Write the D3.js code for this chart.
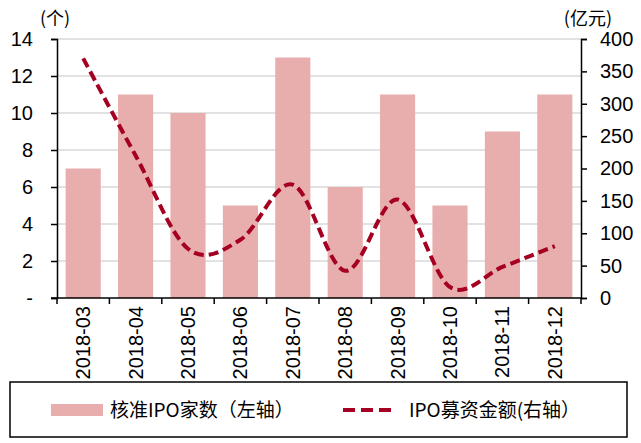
<!DOCTYPE html>
<html>
<head>
<meta charset="utf-8">
<script src="https://cdn.jsdelivr.net/npm/d3@7"></script>
<style>
body { margin: 0; background: #fff; }
svg { display: block; }
.num { font-family: "Liberation Sans Narrow", "Arial Narrow", "Liberation Sans", Arial, sans-serif; font-size: 20px; fill: #000; }
.cjk { font-family: "Noto Sans CJK SC", sans-serif; fill: #000; }
</style>
</head>
<body>
<svg id="chart" width="641" height="443"></svg>
<script>
// data
var categories = ['2018-03', '2018-04', '2018-05', '2018-06', '2018-07', '2018-08', '2018-09', '2018-10', '2018-11', '2018-12'];
var ipoCount = [7, 11, 10, 5, 13, 6, 11, 5, 9, 11];
var ipoAmount = [370, 220, 76, 90, 175, 42, 152, 17, 48, 80];
var leftTicks = [0, 2, 4, 6, 8, 10, 12, 14];
var rightTicks = [0, 50, 100, 150, 200, 250, 300, 350, 400];

var BAR = '#e8adad';
var LINE = '#a50021';

var svg = d3.select('svg#chart');
// plot edges (note: "top" is taken by window.top)
var plotL = 57, plotR = 581, plotT = 39, plotB = 298;

var x = d3.scaleBand().domain(categories).range([plotL, plotR]).paddingInner(0.33).paddingOuter(0.165);
var xb = d3.scaleBand().domain(categories).range([plotL, plotR]);
var yL = d3.scaleLinear().domain([0, 14]).range([plotB, plotT]);
var yR = d3.scaleLinear().domain([0, 400]).range([plotB, plotT]);

// gridlines
svg.append('g').selectAll('line').data(leftTicks.slice(1)).enter().append('line')
	.attr('x1', plotL).attr('x2', plotR)
	.attr('y1', function(d) { return yL(d); }).attr('y2', function(d) { return yL(d); })
	.attr('stroke', '#d9d9d9').attr('stroke-width', 1.5);

// bars
svg.append('g').selectAll('rect').data(ipoCount).enter().append('rect')
	.attr('x', function(d, i) { return x(categories[i]); })
	.attr('width', x.bandwidth())
	.attr('y', function(d) { return yL(d); })
	.attr('height', function(d) { return plotB - yL(d); })
	.attr('fill', BAR);

// line
var line = d3.line()
	.x(function(d, i) { return xb(categories[i]) + xb.bandwidth() / 2; })
	.y(function(d) { return yR(d); })
	.curve(d3.curveCardinal.tension(0));

svg.append('path').datum(ipoAmount)
	.attr('d', line)
	.attr('fill', 'none')
	.attr('stroke', LINE)
	.attr('stroke-width', 4)
	.attr('stroke-dasharray', '10,5');

// left axis
var axL = svg.append('g').attr('transform', 'translate(' + plotL + ',0)')
	.call(d3.axisLeft(yL).tickValues(leftTicks).tickSize(6).tickPadding(18)
		.tickFormat(function(d) { return d === 0 ? '-' : d; }));
axL.attr('font-size', null).attr('font-family', null);
axL.selectAll('text').attr('class', 'num').attr('fill', null);
axL.selectAll('line, path').attr('stroke', '#000').attr('stroke-width', 1.5);

// right axis
var axR = svg.append('g').attr('transform', 'translate(' + plotR + ',0)')
	.call(d3.axisRight(yR).tickValues(rightTicks).tickSize(6).tickPadding(13));
axR.attr('font-size', null).attr('font-family', null);
axR.selectAll('text').attr('class', 'num').attr('fill', null);
axR.selectAll('line, path').attr('stroke', '#000').attr('stroke-width', 1.5);

// bottom axis, ticks between categories
var axB = svg.append('g');
axB.append('line').attr('x1', plotL - 6).attr('x2', plotR + 1).attr('y1', plotB).attr('y2', plotB)
	.attr('stroke', '#000').attr('stroke-width', 1.5);
axB.selectAll('line.tk').data(categories.concat(['end'])).enter().append('line').attr('class', 'tk')
	.attr('x1', function(d, i) { return plotL + i * xb.step(); })
	.attr('x2', function(d, i) { return plotL + i * xb.step(); })
	.attr('y1', plotB).attr('y2', plotB + 6)
	.attr('stroke', '#000').attr('stroke-width', 1.5);
axB.selectAll('text').data(categories).enter().append('text')
	.attr('class', 'num')
	.attr('text-anchor', 'end')
	.attr('dominant-baseline', 'central')
	.attr('transform', function(d) { return 'translate(' + (xb(d) + xb.bandwidth() / 2) + ',' + (plotB + 8) + ') rotate(-90)'; })
	.text(function(d) { return d; });

// unit labels
svg.append('text').attr('class', 'cjk').attr('x', 40).attr('y', 25).attr('font-size', 18).text('(个)');
svg.append('text').attr('class', 'cjk').attr('x', 612).attr('y', 25).attr('text-anchor', 'end').attr('font-size', 18).text('(亿元)');

// legend
var lg = svg.append('g');
lg.append('rect').attr('x', 10).attr('y', 382).attr('width', 617).attr('height', 55)
	.attr('fill', 'none').attr('stroke', '#000').attr('stroke-width', 1.5);
lg.append('rect').attr('x', 51).attr('y', 404).attr('width', 52).attr('height', 12).attr('fill', BAR);
lg.append('text').attr('class', 'cjk').attr('x', 110).attr('y', 417).attr('font-size', 19).text('核准IPO家数（左轴）');
lg.append('line').attr('x1', 343).attr('x2', 395).attr('y1', 410).attr('y2', 410)
	.attr('stroke', LINE).attr('stroke-width', 4).attr('stroke-dasharray', '12,6');
lg.append('text').attr('class', 'cjk').attr('x', 409).attr('y', 417).attr('font-size', 19).text('IPO募资金额(右轴）');
</script>
</body>
</html>
